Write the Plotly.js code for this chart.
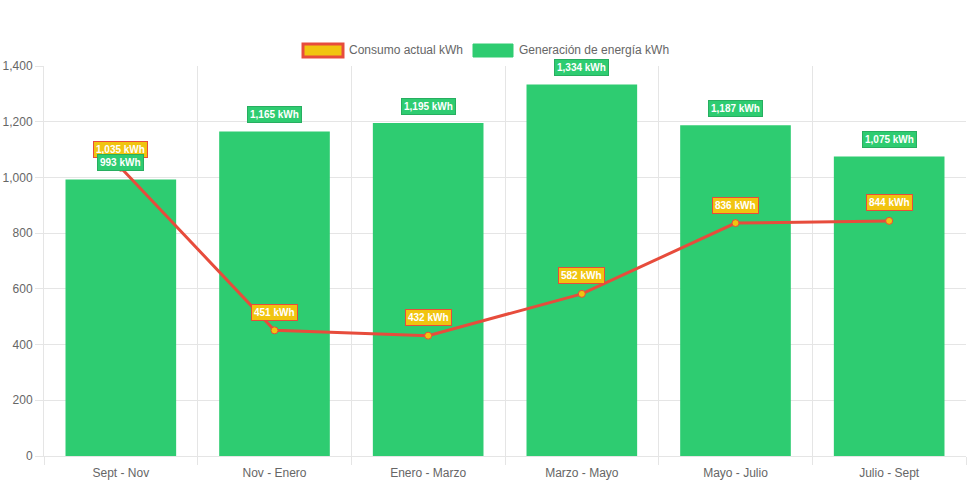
<!DOCTYPE html>
<html>
<head>
<meta charset="utf-8">
<script src="https://cdn.plot.ly/plotly-3.0.1.min.js"></script>
<style>html,body{margin:0;padding:0;background:#fff;}#chart{width:971px;height:485px;}</style>
</head>
<body>
<div id="chart"></div>
<script>
const categories = ["Sept - Nov", "Nov - Enero", "Enero - Marzo", "Marzo - Mayo", "Mayo - Julio", "Julio - Sept"];
const generacion = [993, 1165, 1195, 1334, 1187, 1075];
const consumo = [1035, 451, 432, 582, 836, 844];
const yTicks = [0, 200, 400, 600, 800, 1000, 1200, 1400];
const seriesNames = ["Consumo actual kWh", "Generación de energía kWh"];

const GREEN = "#2ecc71", RED = "#e74c3c", YELLOW = "#f1c40f";
const FONT = "Liberation Sans, Arial, Helvetica, sans-serif";
const fmt = v => v.toLocaleString("en-US") + " kWh";

const traces = [
  {
    type: "bar", x: categories, y: generacion, name: seriesNames[1],
    marker: {color: GREEN}, width: 0.72, showlegend: false, hoverinfo: "skip"
  },
  {
    type: "scatter", mode: "lines+markers", x: categories, y: consumo, name: seriesNames[0],
    line: {color: RED, width: 3}, marker: {color: YELLOW, size: 7, line: {color: RED, width: 1}},
    showlegend: false, hoverinfo: "skip"
  }
];

const annotations = [];
categories.forEach((c, i) => {
  annotations.push({
    x: c, y: consumo[i], xref: "x", yref: "y", yshift: 18, showarrow: false,
    text: "<b>" + fmt(consumo[i]) + "</b>",
    font: {family: FONT, size: 10, color: "#fff"},
    bgcolor: YELLOW, bordercolor: RED, borderwidth: 1, borderpad: 2
  });
});
categories.forEach((c, i) => {
  annotations.push({
    x: c, y: generacion[i], xref: "x", yref: "y", yshift: 17, showarrow: false,
    text: "<b>" + fmt(generacion[i]) + "</b>",
    font: {family: FONT, size: 10, color: "#fff"},
    bgcolor: GREEN, bordercolor: "#27ae60", borderwidth: 1, borderpad: 2
  });
});
// legend text
const L = 44, W = 922, B = 456, H = 390;
const px = v => (v - L) / W, py = v => (B - v) / H;
annotations.push({xref: "paper", yref: "paper", x: px(347), y: py(50), xanchor: "left", yanchor: "middle",
  showarrow: false, text: seriesNames[0], font: {family: FONT, size: 12, color: "#666"}});
annotations.push({xref: "paper", yref: "paper", x: px(517), y: py(50), xanchor: "left", yanchor: "middle",
  showarrow: false, text: seriesNames[1], font: {family: FONT, size: 12, color: "#666"}});

const shapes = [
  {type: "rect", xref: "paper", yref: "paper", x0: px(303), x1: px(343), y0: py(57), y1: py(44),
   fillcolor: YELLOW, line: {color: RED, width: 3}},
  {type: "rect", xref: "paper", yref: "paper", x0: px(473), x1: px(513), y0: py(57), y1: py(44),
   fillcolor: GREEN, line: {color: GREEN, width: 1}}
];

const layout = {
  width: 971, height: 485,
  margin: {l: 44, r: 5, t: 66, b: 29},
  paper_bgcolor: "#fff", plot_bgcolor: "#fff",
  showlegend: false,
  font: {family: FONT, size: 12, color: "#666"},
  xaxis: {
    type: "category", tickson: "boundaries", ticks: "outside", ticklen: 8,
    tickcolor: "#e5e5e5", gridcolor: "#e5e5e5", showgrid: true,
    showline: true, linecolor: "#e5e5e5", linewidth: 1, ticklabelstandoff: 6,
    tickfont: {family: FONT, size: 12, color: "#666"}, fixedrange: true
  },
  yaxis: {
    range: [0, 1400], tickvals: yTicks, tickformat: ",d",
    ticks: "outside", ticklen: 8, tickcolor: "#e5e5e5",
    gridcolor: "#e5e5e5", showline: true, linecolor: "#e5e5e5",
    zeroline: true, zerolinecolor: "#c8c8c8", zerolinewidth: 1,
    tickfont: {family: FONT, size: 12, color: "#666"}, fixedrange: true
  },
  annotations: annotations,
  shapes: shapes
};

Plotly.newPlot("chart", traces, layout, {displayModeBar: false, staticPlot: true});
</script>
</body>
</html>
